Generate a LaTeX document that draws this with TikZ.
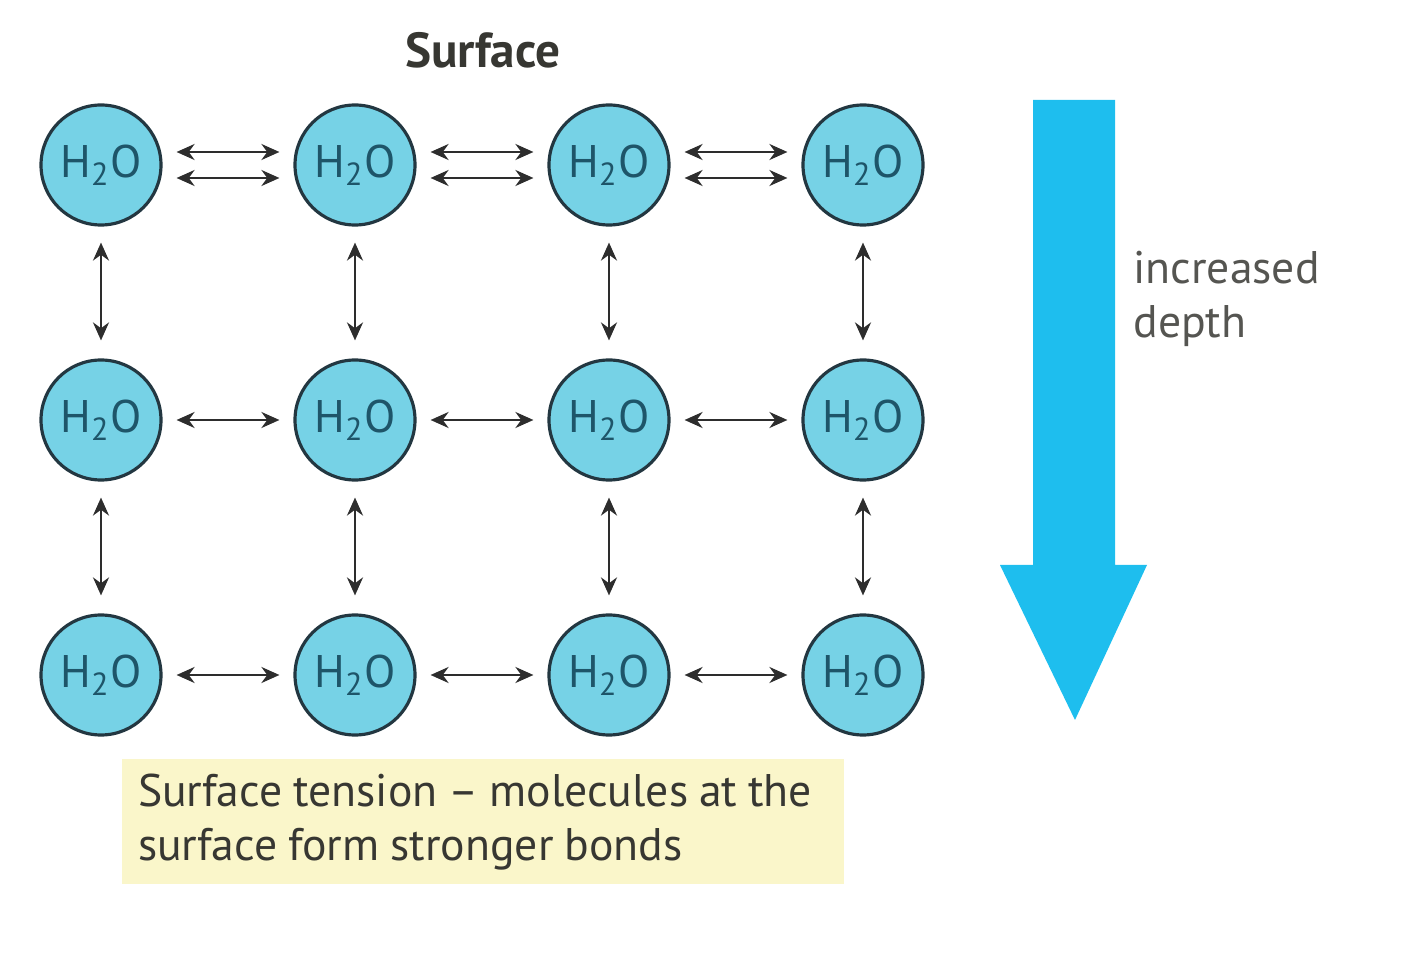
\documentclass[tikz,border=0pt]{standalone}
\usepackage{fontspec}
\setmainfont{PT Sans}
\usepackage{xcolor}
\usepackage{tikz}
\usetikzlibrary{positioning,arrows.meta,calc}
\definecolor{molfill}{RGB}{118,210,230}
\definecolor{molline}{RGB}{35,55,65}
\definecolor{moltext}{RGB}{30,85,105}
\definecolor{bondc}{RGB}{45,45,45}
\definecolor{depthc}{RGB}{30,190,238}
\definecolor{capfill}{RGB}{250,246,202}
\definecolor{txtc}{RGB}{55,55,50}

\begin{document}
\begin{tikzpicture}[x=1cm,y=1cm,font=\fontsize{13}{15.6}\selectfont,
  mol/.style={circle,draw=molline,fill=molfill,line width=0.9pt,minimum size=1.2cm,inner sep=0pt,text=moltext},
  bond/.style={{Stealth[length=1.8mm,width=1.6mm]}-{Stealth[length=1.8mm,width=1.6mm]},line width=0.7pt,draw=bondc,shorten >=1.4mm,shorten <=1.4mm},
  capbox/.style={fill=capfill,text=txtc,align=left,text width=6.9cm,inner xsep=1.6mm,minimum height=1.25cm}]
  \useasboundingbox (0,0) rectangle (14.28,9.52);
  % molecules: columns 1.01..8.63, rows 7.87 (surface), 5.32, 2.77
  \foreach \r/\y in {1/7.87,2/5.32,3/2.77}
    \foreach \c/\x in {1/1.01,2/3.55,3/6.09,4/8.63}
      \node[mol] (m\r\c) at (\x,\y) {H\textsubscript{2}O};
  \node[font=\fontsize{14}{16}\selectfont\bfseries,text=txtc] (surf) at (4.83,9.02) {Surface};
  % surface row: double bonds
  \foreach \a/\b in {1/2,2/3,3/4}{
    \draw[bond] ([yshift=1.3mm]m1\a.east) -- ([yshift=1.3mm]m1\b.west);
    \draw[bond] ([yshift=-1.3mm]m1\a.east) -- ([yshift=-1.3mm]m1\b.west);}
  % deeper rows and columns: single bonds
  \foreach \r in {2,3}
    \foreach \a/\b in {1/2,2/3,3/4}
      \draw[bond] (m\r\a) -- (m\r\b);
  \foreach \c in {1,...,4}
    \foreach \a/\b in {1/2,2/3}
      \draw[bond,shorten <=1.6mm,shorten >=1.8mm] (m\a\c) -- (m\b\c);
  % depth arrow
  \fill[depthc] (10.33,8.52) -- (11.15,8.52) -- (11.15,3.87) -- (11.47,3.87) -- (10.75,2.32) -- (10.00,3.87) -- (10.33,3.87) -- cycle;
  \node[anchor=base west,align=left,text=txtc!85!white] (depth) at (11.21,6.14) {increased\\depth};
  \node[capbox] (cap) at (4.83,1.30) {\spaceskip=0.24em plus 0.1em\relax Surface tension -- molecules at the\\surface form stronger bonds};
\end{tikzpicture}
\end{document}
